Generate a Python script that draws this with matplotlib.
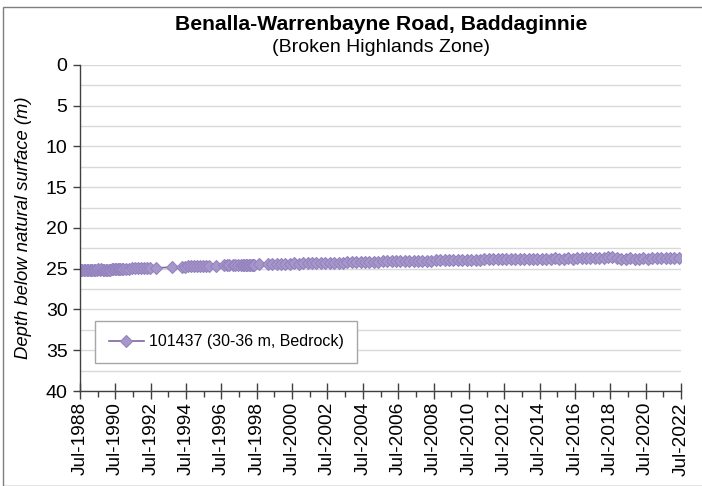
import numpy as np
import pandas as pd
import matplotlib
matplotlib.use("Agg")
import matplotlib.pyplot as plt
import matplotlib.dates as mdates
from matplotlib.ticker import MultipleLocator
from matplotlib.patches import Rectangle

plt.rcParams['font.family'] = ['Liberation Sans', 'DejaVu Sans']

title = "Benalla-Warrenbayne Road, Baddaginnie"
subtitle = "(Broken Highlands Zone)"
series_name = "101437 (30-36 m, Bedrock)"
y_label = "Depth below natural surface (m)"

# leituras (data, profundidade em m)
dates = [
    "1988-07", "1988-08", "1988-09", "1988-10", "1988-11", "1988-12",
    "1989-01", "1989-02", "1989-03", "1989-04", "1989-05", "1989-06",
    "1989-07", "1989-08", "1989-09", "1989-10", "1989-11", "1989-12",
    "1990-01", "1990-02", "1990-03", "1990-04", "1990-05", "1990-06",
    "1990-07", "1990-08", "1990-09", "1990-10", "1990-11", "1990-12",
    "1991-02", "1991-04", "1991-06", "1991-08", "1991-10", "1991-12",
    "1992-02", "1992-04", "1992-06", "1992-10", "1993-09",
    "1994-04", "1994-06", "1994-08", "1994-10", "1994-12",
    "1995-02", "1995-04", "1995-06", "1995-08", "1995-10",
    "1996-03", "1996-08", "1996-10", "1996-12",
    "1997-02", "1997-04", "1997-06", "1997-08", "1997-09", "1997-10", "1997-11", "1997-12",
    "1998-01", "1998-02", "1998-03", "1998-04", "1998-05", "1998-08",
    "1999-02", "1999-05", "1999-08", "1999-11",
    "2000-02", "2000-05", "2000-08", "2000-11",
    "2001-02", "2001-05", "2001-08", "2001-11",
    "2002-02", "2002-05", "2002-08", "2002-11",
    "2003-02", "2003-05", "2003-08", "2003-11",
    "2004-02", "2004-05", "2004-08", "2004-11",
    "2005-02", "2005-05", "2005-08", "2005-11",
    "2006-02", "2006-05", "2006-08", "2006-11",
    "2007-02", "2007-05", "2007-08", "2007-11",
    "2008-02", "2008-05", "2008-08", "2008-11",
    "2009-02", "2009-05", "2009-08", "2009-11",
    "2010-02", "2010-05", "2010-08", "2010-11",
    "2011-02", "2011-05", "2011-08", "2011-11",
    "2012-02", "2012-05", "2012-08", "2012-11",
    "2013-02", "2013-05", "2013-08", "2013-11",
    "2014-02", "2014-05", "2014-08", "2014-11",
    "2015-02", "2015-05", "2015-08", "2015-11",
    "2016-02", "2016-05", "2016-08", "2016-11",
    "2017-02", "2017-05", "2017-08", "2017-11",
    "2018-02", "2018-05", "2018-08", "2018-11",
    "2019-02", "2019-05", "2019-08", "2019-11",
    "2020-02", "2020-05", "2020-08", "2020-11",
    "2021-02", "2021-05", "2021-08", "2021-11",
    "2022-02", "2022-05",
]
depths = [
    25.15, 25.2, 25.1, 25.15, 25.2, 25.1,
    25.15, 25.2, 25.2, 25.15, 25.1, 25.1,
    25.05, 25.1, 25.05, 25.1, 25.15, 25.1,
    25.1, 25.15, 25.1, 25.05, 25.05, 25.0,
    25.0, 25.05, 25.0, 25.05, 25.05, 25.0,
    25.0, 25.0, 24.95, 24.95, 24.95, 24.95,
    24.9, 24.9, 24.9, 24.9, 24.8,
    24.75, 24.75, 24.7, 24.7, 24.7,
    24.7, 24.7, 24.65, 24.65, 24.65,
    24.65, 24.6, 24.6, 24.6,
    24.6, 24.55, 24.55, 24.55, 24.5, 24.5, 24.5, 24.5,
    24.5, 24.5, 24.5, 24.5, 24.5, 24.45,
    24.45, 24.45, 24.4, 24.45,
    24.4, 24.4, 24.35, 24.4,
    24.35, 24.35, 24.3, 24.35,
    24.3, 24.3, 24.25, 24.25,
    24.25, 24.25, 24.2, 24.2,
    24.2, 24.2, 24.15, 24.15,
    24.15, 24.15, 24.1, 24.1,
    24.1, 24.1, 24.05, 24.05,
    24.05, 24.05, 24.0, 24.0,
    24.0, 24.0, 23.95, 23.95,
    23.95, 23.95, 23.9, 23.95,
    23.95, 23.9, 23.9, 23.9,
    23.9, 23.85, 23.85, 23.8,
    23.85, 23.85, 23.8, 23.8,
    23.8, 23.8, 23.75, 23.8,
    23.8, 23.75, 23.75, 23.75,
    23.75, 23.7, 23.75, 23.75,
    23.7, 23.75, 23.7, 23.7,
    23.7, 23.65, 23.7, 23.7,
    23.65, 23.55, 23.6, 23.7,
    23.75, 23.75, 23.7, 23.75,
    23.75, 23.7, 23.75, 23.7,
    23.65, 23.65, 23.7, 23.7,
    23.7, 23.7,
]

x = pd.to_datetime(dates, format="%Y-%m") + pd.Timedelta(days=14)

fig = plt.figure(figsize=(7.02, 4.86), dpi=100)
ax = fig.add_axes([80 / 702, 1 - 391 / 486, 601 / 702, 326 / 486])

# moldura do grafico
fig.patches.append(Rectangle((3 / 702, 0), 1, 1 - 7 / 486, transform=fig.transFigure,
                             fill=False, edgecolor='#7f7f7f', linewidth=1.0))

ax.plot(x, depths, '-', color='#8064A2', linewidth=1.2, marker='D',
        markersize=6.5, markerfacecolor='#a697ca', markeredgecolor='#9483be',
        markeredgewidth=0.8, label=series_name)

ax.set_ylim(40, 0)
ax.yaxis.set_major_locator(MultipleLocator(5))
ax.yaxis.set_minor_locator(MultipleLocator(2.5))
ax.grid(True, axis='y', which='both', color='#d9d9d9', linewidth=1.0)
ax.set_axisbelow(True)

ax.set_xlim(pd.Timestamp("1988-07-01"), pd.Timestamp("2022-07-01"))
ax.xaxis.set_major_locator(mdates.MonthLocator(bymonth=7, bymonthday=1, interval=24))
ax.xaxis.set_minor_locator(mdates.MonthLocator(bymonth=7, bymonthday=1))
ax.xaxis.set_major_formatter(mdates.DateFormatter("Jul-%Y"))

for s in ['top', 'right']:
    ax.spines[s].set_visible(False)
for s in ['left', 'bottom']:
    ax.spines[s].set_color('#404040')
    ax.spines[s].set_linewidth(1.0)

ax.tick_params(axis='x', which='major', direction='inout', length=12, width=1,
               color='#404040', labelsize=13.8, rotation=90, pad=2)
ax.tick_params(axis='x', which='minor', direction='out', length=4, width=1, color='#404040')
ax.tick_params(axis='y', which='major', direction='out', length=5, width=1,
               color='#404040', labelsize=14, pad=4)
ax.tick_params(axis='y', which='minor', length=0)

ax.set_ylabel(y_label, fontsize=13.3, style='italic', labelpad=10)

fig.text(381 / 702, 1 - 25 / 486, title, ha='center', va='center', fontsize=15.2, fontweight='bold')
fig.text(381 / 702, 1 - 47 / 486, subtitle, ha='center', va='center', fontsize=14)

leg = ax.legend(loc='lower left', bbox_to_anchor=(0.025, 0.086), borderaxespad=0,
                fontsize=11.5, fancybox=False, framealpha=1, edgecolor='#a6a6a6',
                handlelength=2.2, borderpad=0.85, handletextpad=0.3)
leg.get_frame().set_linewidth(1.0)

fig.savefig("out.png", dpi=100)
